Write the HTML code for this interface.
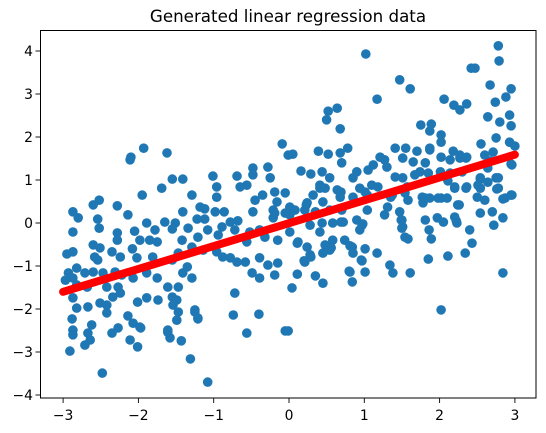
<!DOCTYPE html>
<html><head><meta charset="utf-8">
<style>
html,body{margin:0;padding:0;background:#fff;}
svg{display:block;}
text{font-family:"DejaVu Sans","Liberation Sans",sans-serif;fill:#000;}
</style></head>
<body>
<svg id="chart" width="546" height="433" viewBox="0 0 546 433">
<text x="288" y="22" text-anchor="middle" font-size="16.7">Generated linear regression data</text>
<g id="points"></g>
<g id="line"></g>
<rect x="40.5" y="30.5" width="495.5" height="367.5" fill="none" stroke="#000" stroke-width="1"/>
<g id="xaxis"></g>
<g id="yaxis"></g>
</svg>
<script>
const xTicks = [-3, -2, -1, 0, 1, 2, 3];
const yTicks = [-4, -3, -2, -1, 0, 1, 2, 3, 4];
const lineX = [-3, 3];
const lineY = [-1.6, 1.59];
const pointsX = [
-2.11,-1.95,-1.69,-2.52,-2.60,-2.28,-2.87,-2.80,-2.14,-2.54,-2.52,-2.87,-2.28,-1.89,-1.78,-2.05,-2.28,-1.98,-1.85,-1.75,
-2.60,-2.51,-2.08,-2.35,-2.87,-2.95,-2.24,-2.58,-2.02,-2.54,-1.81,-2.82,-2.93,-2.97,-2.87,-2.71,-2.60,-2.47,-2.31,-2.22,
-2.07,-1.89,-1.75,-2.82,-2.68,-2.42,-2.27,-2.34,-2.24,-2.87,-2.82,-2.67,-2.51,-2.42,-2.01,-1.89,-1.74,-2.42,-2.88,-2.14,
-2.07,-1.98,-2.62,-2.87,-2.87,-2.67,-2.35,-2.27,-2.71,-2.11,-2.01,-2.91,-2.48,-1.31,-1.08,-1.43,-1.58,-1.61,-0.56,-0.05,
-0.74,-0.40,-0.72,-1.21,-1.25,-1.49,-1.97,-2.64,
-0.09,-0.01,-1.62,-0.48,-0.28,-1.01,-0.69,-1.55,-1.41,-0.48,-0.25,-0.96,-0.65,-0.56,-0.19,-0.05,-1.29,-0.96,-0.45,-0.35,
-0.16,-1.18,-1.41,-0.98,-0.86,-0.48,-0.21,-0.05,-1.22,-1.12,-1.65,-1.51,-0.78,-0.68,-1.34,-1.08,-0.89,-0.72,-0.52,-0.39,
-0.21,-1.55,-1.21,-0.94,-0.56,-0.32,-0.15,-1.42,-1.29,-1.14,-0.96,-0.88,-0.78,-0.69,-0.58,-0.39,-0.28,-0.15,-1.47,-1.55,
-1.35,-1.41,-1.29,-0.49,-0.39,-0.19,-1.61,-1.47,-1.55,-1.49,-1.54,-1.47,-1.25,-1.21,-1.61,
-1.93,-2.10,-1.12,-0.19,
1.02,2.78,2.79,2.42,2.47,1.47,1.61,1.17,2.67,2.95,2.88,2.06,2.19,2.27,2.36,2.74,0.52,0.64,0.50,0.68,
2.64,2.80,2.93,2.95,1.75,1.89,1.87,2.02,2.02,0.05,0.39,0.52,0.68,0.78,0.70,1.41,1.55,1.70,1.87,2.18,
2.55,2.75,2.93,3.00,0.16,0.29,0.44,0.90,1.12,1.27,1.51,1.65,2.02,2.27,2.35,2.67,2.95,2.75,2.54,2.78,
2.95,2.87,2.26,2.02,1.81,2.20,2.35,2.54,1.41,1.74,1.35,1.54,1.01,0.69,0.41,0.23,0.01,
1.21,1.05,1.30,0.54,0.85,1.51,0.41,0.48,0.64,0.94,1.10,1.18,1.57,0.32,0.68,0.85,1.04,1.37,1.58,0.24,
0.45,0.08,0.21,0.35,0.54,0.70,1.04,1.31,1.27,1.47,0.01,0.28,0.44,0.58,0.72,0.90,1.50,0.01,0.41,0.94,
0.97,1.51,1.54,0.11,0.24,0.48,0.58,0.74,0.84,0.28,0.45,0.54,0.85,1.01,1.17,0.21,0.97,1.34,1.38,0.11,
0.35,0.45,0.81,0.84,1.01,1.61,0.04,
0.98,0.69,0.12,0.56,0.81,0.29,0.20,0.96,0.80,-0.01,1.49,1.50,1.58,1.81,1.86,1.89,1.85,2.11,2.34,2.40,
2.43,2.02,2.22,2.72,2.84,2.84,
1.87,2.27,2.36,2.14,2.60,2.71,1.81,2.64,2.96,2.01,2.14,2.30,1.85,1.67,2.54,2.64,2.78,2.11,2.20,2.36,
2.51,2.76,1.77,1.87,1.98,2.10,2.50,2.60,2.96,2.84,1.78,2.24,2.54,2.70,1.97,2.05,2.20,2.23
];
const pointsY = [
1.47,0.65,0.81,0.53,0.42,0.40,0.26,0.12,0.19,0.09,-0.12,-0.21,-0.23,0.00,-0.16,-0.19,-0.40,-0.40,-0.40,-0.44,
-0.51,-0.58,-0.60,-0.67,-0.67,-0.72,-0.79,-0.79,-0.81,-0.86,-0.79,-1.05,-1.16,-1.33,-1.28,-1.16,-1.14,-1.16,-1.14,-1.21,
-1.28,-1.16,-1.28,-1.44,-1.49,-1.49,-1.49,-1.72,-1.63,-1.74,-1.98,-1.95,-1.86,-1.91,-1.84,-1.74,-1.79,-2.09,-2.23,-2.16,
-2.33,-2.42,-2.37,-2.49,-2.60,-2.56,-2.56,-2.44,-2.84,-2.72,-2.88,-2.98,-3.49,-3.16,-3.70,-2.74,-2.67,-2.54,-2.56,-2.51,
-2.14,-2.12,-1.63,-2.23,-2.07,-2.26,-2.44,-2.72,
1.84,1.58,1.63,1.28,1.30,1.09,1.09,1.02,1.02,1.12,1.05,0.84,0.84,0.88,0.72,0.70,0.65,0.60,0.53,0.65,
0.49,0.37,0.26,0.26,0.26,0.26,0.30,0.23,0.09,0.09,0.02,0.00,0.02,0.05,-0.12,-0.16,-0.09,-0.16,-0.21,-0.16,
0.12,-0.14,-0.33,-0.28,-0.44,-0.33,-0.40,-0.40,-0.56,-0.63,-0.67,-0.79,-0.81,-0.91,-0.91,-0.81,-0.98,-0.93,-0.70,-0.86,
-1.02,-1.16,-1.28,-1.16,-1.28,-1.21,-1.49,-1.49,-1.72,-1.79,-1.91,-2.07,-2.02,-2.21,-2.49,
1.74,1.53,0.33,0.23,
3.93,4.12,3.77,3.60,3.60,3.33,3.12,2.88,3.21,3.12,2.93,2.88,2.74,2.63,2.77,2.81,2.60,2.67,2.40,2.19,
2.47,2.35,2.51,2.26,2.28,2.30,2.14,2.05,1.88,1.60,1.67,1.60,1.63,1.74,1.40,1.74,1.74,1.67,1.70,1.67,
1.84,1.98,1.88,1.79,1.21,1.14,1.19,1.19,1.35,1.47,1.51,1.42,1.53,1.51,1.51,1.44,1.37,1.05,1.02,0.81,
0.65,0.58,0.42,0.58,0.58,0.81,0.81,0.81,1.07,1.19,0.60,0.70,0.72,0.72,0.81,0.42,0.37,
1.53,1.23,1.30,1.05,1.05,1.05,0.88,0.81,0.77,0.81,0.88,0.84,0.84,0.65,0.60,0.60,0.65,0.65,0.53,0.47,
0.49,0.30,0.30,0.26,0.30,0.30,0.30,0.37,0.19,0.26,0.19,-0.05,0.00,0.00,0.02,0.07,0.07,-0.21,-0.21,-0.16,
-0.05,-0.09,-0.33,-0.47,-0.56,-0.51,-0.40,-0.40,-0.56,-0.74,-0.70,-0.63,-0.70,-0.60,-0.70,-0.91,-0.88,-0.98,-1.16,-1.19,
-1.23,-1.40,-1.14,-1.37,-1.14,-1.16,-1.51,
-0.02,0.02,-0.44,-0.58,-0.53,-0.79,-0.88,-0.86,-1.12,-2.51,0.07,-0.12,-0.37,0.07,-0.16,-0.37,-0.84,-0.77,-0.70,-0.16,
-0.47,-2.02,0.05,-0.05,-1.16,0.12,
1.74,1.58,1.53,1.47,1.58,1.65,1.40,1.28,1.35,1.19,1.16,1.19,1.16,1.12,1.05,0.95,1.05,0.98,0.84,0.84,
0.88,0.79,0.60,0.58,0.58,0.58,0.60,0.53,0.65,0.56,0.47,0.42,0.23,0.26,0.12,0.02,0.14,0.00
];

const X0 = 289, XS = 75.3, Y0 = 223, YS = 43;
function sx(v){ return X0 + v * XS; }
function sy(v){ return Y0 - v * YS; }
const NS = 'http://www.w3.org/2000/svg';

const pg = document.getElementById('points');
for (let i = 0; i < pointsX.length; i++) {
  const c = document.createElementNS(NS, 'circle');
  c.setAttribute('cx', sx(pointsX[i]).toFixed(1));
  c.setAttribute('cy', sy(pointsY[i]).toFixed(1));
  c.setAttribute('r', '4.8');
  c.setAttribute('fill', '#1f77b4');
  
  
  pg.appendChild(c);
}

const lg = document.getElementById('line');
const ln = document.createElementNS(NS, 'line');
ln.setAttribute('x1', sx(lineX[0])); ln.setAttribute('y1', sy(lineY[0]));
ln.setAttribute('x2', sx(lineX[1])); ln.setAttribute('y2', sy(lineY[1]));
ln.setAttribute('stroke', '#ff0000'); ln.setAttribute('stroke-width', '8');
ln.setAttribute('stroke-linecap', 'round');


lg.appendChild(ln);

function fmt(v){ return v < 0 ? '\u2212' + Math.abs(v) : String(v); }

const xg = document.getElementById('xaxis');
xTicks.forEach(t => {
  const x = sx(t);
  const tk = document.createElementNS(NS, 'line');
  tk.setAttribute('x1', x); tk.setAttribute('x2', x);
  tk.setAttribute('y1', 398); tk.setAttribute('y2', 403);
  tk.setAttribute('stroke', '#000'); tk.setAttribute('stroke-width', '0.9');
  
  
  xg.appendChild(tk);
  const tx = document.createElementNS(NS, 'text');
  tx.setAttribute('x', x); tx.setAttribute('y', 420);
  tx.setAttribute('text-anchor', 'middle'); tx.setAttribute('font-size', '13.9');
  tx.textContent = fmt(t);
  
  
  xg.appendChild(tx);
});

const yg = document.getElementById('yaxis');
yTicks.forEach(t => {
  const y = sy(t);
  const tk = document.createElementNS(NS, 'line');
  tk.setAttribute('x1', 35.5); tk.setAttribute('x2', 40.5);
  tk.setAttribute('y1', y); tk.setAttribute('y2', y);
  tk.setAttribute('stroke', '#000'); tk.setAttribute('stroke-width', '0.9');
  
  
  yg.appendChild(tk);
  const tx = document.createElementNS(NS, 'text');
  tx.setAttribute('x', 33); tx.setAttribute('y', y + 5);
  tx.setAttribute('text-anchor', 'end'); tx.setAttribute('font-size', '13.9');
  tx.textContent = fmt(t);
  
  
  yg.appendChild(tx);
});
</script>
</body></html>
